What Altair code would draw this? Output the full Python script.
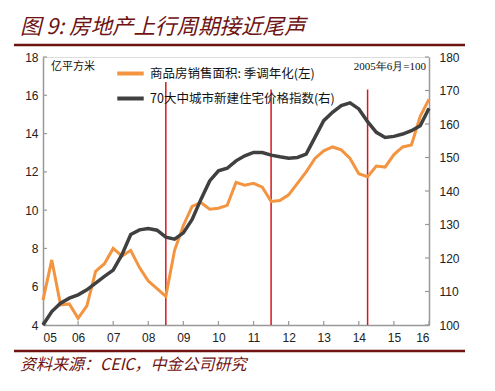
import altair as alt
import pandas as pd

# ---- data ----
q_years = [5 + i * 0.25 for i in range(45)]
sales = [5.3, 7.4, 5.05, 5.1, 4.35, 5.0, 6.8, 7.2, 8.0, 7.6, 7.9, 7.0, 6.3, 5.9, 5.5,
         7.9, 9.2, 10.2, 10.4, 10.05, 10.1, 10.25, 11.45, 11.3, 11.4, 11.2, 10.45, 10.5,
         10.8, 11.4, 12.0, 12.7, 13.1, 13.3, 13.15, 12.7, 11.9, 11.75, 12.3, 12.25, 12.9,
         13.3, 13.4, 14.9, 15.8]
price = [100, 104, 106.5, 108, 109, 110.5, 112.5, 114.5, 116.4, 121, 127, 128.4, 128.8,
         128.3, 126.2, 125.6, 127.5, 131.5, 137.5, 143, 146, 146.8, 149, 150.5, 151.5,
         151.5, 150.7, 150.2, 149.8, 150, 151, 156, 161, 163.5, 165.5, 166.3, 164.5, 160.7,
         157.5, 156, 156.3, 157, 158, 159.5, 164.7]
cycle_x = [8.5, 11.5, 14.25]
cycle_top = [16.7, 16.3, 16.3]
left_ticks = [4, 6, 8, 10, 12, 14, 16, 18]
right_ticks = [100, 110, 120, 130, 140, 150, 160, 170, 180]
x_ticks = list(range(5, 17))

s1 = "商品房销售面积: 季调年化(左)"
s2 = "70大中城市新建住宅价格指数(右)"
title = "图 9:  房地产上行周期接近尾声"
source = "资料来源：CEIC，中金公司研究"

W, H = 386, 268
ORANGE = "#F39440"
DARK = "#404040"
MAROON = "#6E1212"
CJK = "Noto Sans CJK SC"
NUM = "Liberation Sans"

df1 = pd.DataFrame({"t": q_years, "v": sales, "s": s1})
df2 = pd.DataFrame({"t": q_years, "v": price, "s": s2})
dcyc = pd.DataFrame({"t": cycle_x, "lo": 4, "hi": cycle_top})
dlt = pd.DataFrame({"v": left_ticks})
drt = pd.DataFrame({"v": right_ticks})
dxt = pd.DataFrame({"t": x_ticks})
one = pd.DataFrame({"a": [0]})

common = dict(ticks=False, domainColor="#999999", domainWidth=1.5, labelFont=NUM,
              labelFontSize=12, labelColor="#222222", grid=False, title=None,
              labelOverlap=False)
xscale = alt.Scale(domain=[5, 16], nice=False)
xaxis = alt.Axis(values=x_ticks, format="02d", labelPadding=7, **common)
lscale = alt.Scale(domain=[4, 18], nice=False, zero=False)
laxis = alt.Axis(values=left_ticks, labelPadding=5, **common)
rscale = alt.Scale(domain=[100, 180], nice=False, zero=False)
raxis = alt.Axis(values=right_ticks, orient="right", labelPadding=10, **common)

color = alt.Color("s:N", scale=alt.Scale(domain=[s1, s2], range=[ORANGE, DARK]),
                  legend=alt.Legend(orient="none", legendX=72, legendY=1, title=None,
                                    symbolType="stroke", symbolStrokeWidth=4,
                                    symbolSize=700, labelFont=CJK, labelFontSize=12.5,
                                    labelColor="#111111", rowPadding=1, labelOffset=4,
                                    labelLimit=0))

X = lambda f: alt.X(f, scale=xscale, axis=xaxis)
YL = lambda f: alt.Y(f, scale=lscale, axis=laxis)
YR = lambda f: alt.Y(f, scale=rscale, axis=raxis)

orange = alt.Chart(df1).mark_line(strokeWidth=3).encode(
    x=X("t:Q"), y=YL("v:Q"), color=color)

cycles = alt.Chart(dcyc).mark_rule(color="#D8161B", strokeWidth=1.5).encode(
    x=X("t:Q"), y=YL("lo:Q"), y2="hi:Q")

lt = alt.Chart(dlt).mark_rule(color="#999999", strokeWidth=1.2).encode(
    y=YL("v:Q"), x=alt.value(0), x2=alt.value(4))
xt = alt.Chart(dxt).mark_rule(color="#999999", strokeWidth=1.2).encode(
    x=X("t:Q"), y=alt.value(H), y2=alt.value(H - 4))

def txt(s, x, y, size, **kw):
    return alt.Chart(one).mark_text(text=s, fontSize=size, **kw).encode(
        x=alt.value(x), y=alt.value(y))

texts = [
    txt(title, -23, -29, 21.5, font=CJK, fontStyle="italic", color=MAROON, align="left",
        baseline="middle"),
    txt("亿平方米", 8, 10, 11, font=CJK, color="#111111", align="left", baseline="middle"),
    txt("2005年6月=100", 383, 10, 11, font="Liberation Serif", color="#111111",
        align="right", baseline="middle"),
    txt(source, -23, 308, 16, font=CJK, fontStyle="italic", color=MAROON, align="left",
        baseline="middle"),
]
hr_top = alt.Chart(one).mark_rule(color=MAROON, strokeWidth=2.5).encode(
    x=alt.value(-29), x2=alt.value(422), y=alt.value(-12))
hr_bot = alt.Chart(one).mark_rule(color=MAROON, strokeWidth=2.5).encode(
    x=alt.value(-29), x2=alt.value(422), y=alt.value(294))

left = alt.layer(cycles, lt, xt, orange, hr_top, hr_bot, *texts)

dark = alt.Chart(df2).mark_line(strokeWidth=3.5).encode(
    x=X("t:Q"), y=YR("v:Q"), color=color)
rt = alt.Chart(drt).mark_rule(color="#999999", strokeWidth=1.2).encode(
    y=YR("v:Q"), x=alt.value(W), x2=alt.value(W - 4))
right = alt.layer(rt, dark)

chart = alt.layer(left, right).resolve_scale(y="independent").properties(
    width=W, height=H,
    autosize=alt.AutoSizeParams(type="none"),
    padding={"left": 35, "top": 49, "right": 50, "bottom": 50},
).configure_view(stroke=None).configure(background="white")

chart.save("out.html", embed_options={"renderer": "svg", "actions": False})
